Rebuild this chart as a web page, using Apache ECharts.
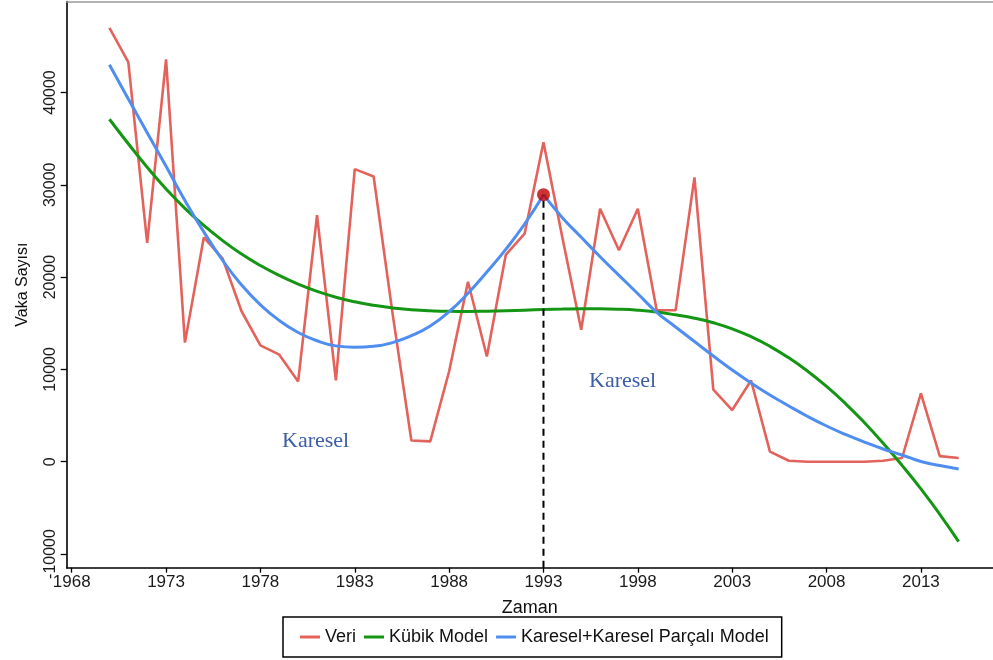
<!DOCTYPE html>
<html>
<head>
<meta charset="utf-8">
<script src="https://cdn.jsdelivr.net/npm/echarts@6/dist/echarts.min.js"></script>
<style>
  html, body { margin: 0; padding: 0; background: #fff; }
  #chart { width: 993px; height: 660px; }
</style>
</head>
<body>
<div id="chart"></div>
<script>
// Yıllar (1970-2015)
const years = [1970, 1971, 1972, 1973, 1974, 1975, 1976, 1977, 1978, 1979,
  1980, 1981, 1982, 1983, 1984, 1985, 1986, 1987, 1988, 1989,
  1990, 1991, 1992, 1993, 1994, 1995, 1996, 1997, 1998, 1999,
  2000, 2001, 2002, 2003, 2004, 2005, 2006, 2007, 2008, 2009,
  2010, 2011, 2012, 2013, 2014, 2015];

// Gözlenen vaka sayıları
const veri = [47000, 43300, 23700, 43600, 12900, 24300, 22000, 16300, 12600, 11600,
  8700, 26700, 8800, 31700, 30900, 16100, 2300, 2200, 9800, 19500,
  11400, 22400, 24700, 34600, 24300, 14300, 27400, 22900, 27400, 16400,
  16400, 30800, 7800, 5600, 8800, 1100, 100, 0, 0, 0,
  0, 100, 400, 7400, 600, 400];

// Kübik model tahminleri
const kubik = [37100, 34450, 31900, 29550, 27450, 25600, 23950, 22500, 21250, 20170,
  19240, 18460, 17820, 17320, 16940, 16660, 16470, 16350, 16290, 16280,
  16310, 16360, 16420, 16480, 16530, 16560, 16560, 16520, 16410, 16210,
  15910, 15550, 15050, 14400, 13550, 12500, 11250, 9800, 8150, 6300,
  4250, 2000, -400, -2950, -5700, -8650];

// Karesel + karesel parçalı model tahminleri (1993'te kırılma)
const parcali = [43000, 39300, 35650, 32000, 28300, 24900, 21800, 19150, 17000, 15300,
  14000, 13100, 12550, 12400, 12500, 12900, 13650, 14700, 16250, 18250,
  20550, 23000, 25750, 28930, 26440, 24310, 22210, 20190, 18200, 16190,
  14590, 13020, 11450, 9940, 8530, 7230, 6040, 4900, 3870, 2950,
  2130, 1380, 730, 20, -410, -790];

const knotYear = 1993;
const xTicks = [1968, 1973, 1978, 1983, 1988, 1993, 1998, 2003, 2008, 2013];
const yTicks = [-10000, 0, 10000, 20000, 30000, 40000];
const xRange = [1967.735, 2016.82];
const yRange = [-11484, 49858];

const pairs = (vals, from, to) => years.slice(from, to).map((y, i) => [y, vals[from + i]]);
const knotIdx = years.indexOf(knotYear);
const knotValue = parcali[knotIdx];

const SANS = "'Liberation Sans', Arial, sans-serif";
const SERIF = "'Liberation Serif', 'Times New Roman', serif";
const RED = '#e3635c', GREEN = '#149614', BLUE = '#4f8ef0';

const chart = echarts.init(document.getElementById('chart'), null, { renderer: 'canvas' });

chart.setOption({
  animation: false,
  backgroundColor: '#fff',
  grid: { left: 66.7, right: 0, top: 1.5, bottom: 92.3 },
  xAxis: [{
    type: 'value', min: xRange[0], max: xRange[1],
    name: 'Zaman', nameLocation: 'middle', nameGap: 31,
    nameTextStyle: { fontFamily: SANS, fontSize: 18, color: '#111' },
    axisLine: { show: true, onZero: false, lineStyle: { color: '#000', width: 1.6 } },
    axisTick: { show: true, customValues: xTicks, length: 5, lineStyle: { color: '#000', width: 1.3 } },
    axisLabel: { customValues: xTicks, formatter: v => String(v),
      fontFamily: SANS, fontSize: 17, color: '#1a1a1a', margin: 6 },
    splitLine: { show: false }
  }, {
    type: 'value', position: 'top', min: xRange[0], max: xRange[1],
    axisLine: { show: true, onZero: false, lineStyle: { color: '#999', width: 1.5 } },
    axisTick: { show: false }, axisLabel: { show: false }, splitLine: { show: false }
  }],
  yAxis: {
    type: 'value', min: yRange[0], max: yRange[1],
    name: 'Vaka Sayısı', nameLocation: 'middle', nameGap: 36,
    nameTextStyle: { fontFamily: SANS, fontSize: 16, color: '#111' },
    axisLine: { show: true, onZero: false, lineStyle: { color: '#000', width: 1.6 } },
    axisTick: { show: true, customValues: yTicks, length: 6, lineStyle: { color: '#000', width: 1.3 } },
    axisLabel: { customValues: yTicks, formatter: v => String(v), rotate: 90,
      fontFamily: SANS, fontSize: 16, color: '#1a1a1a', margin: 8 },
    splitLine: { show: false }
  },
  legend: {
    data: ['Veri', 'Kübik Model', 'Karesel+Karesel Parçalı Model'],
    left: 283, top: 617,
    orient: 'horizontal',
    icon: 'rect', itemWidth: 20, itemHeight: 3, itemGap: 8,
    padding: [11, 13, 11, 17],
    borderColor: '#000', borderWidth: 1.5,
    textStyle: { fontFamily: SANS, fontSize: 18, color: '#111' }
  },
  graphic: [
    { type: 'text', left: 282, top: 430,
      style: { text: 'Karesel', font: '22px ' + SERIF, fill: '#3b5ea6' } },
    { type: 'text', left: 589, top: 370,
      style: { text: 'Karesel', font: '22px ' + SERIF, fill: '#3b5ea6' } }
  ],
  series: [
    { name: 'Veri', type: 'line', data: pairs(veri, 0, years.length),
      showSymbol: false, itemStyle: { color: RED },
      lineStyle: { color: RED, width: 2.6 }, z: 2 },
    { name: 'Kübik Model', type: 'line', data: pairs(kubik, 0, years.length),
      smooth: true, showSymbol: false, itemStyle: { color: GREEN },
      lineStyle: { color: GREEN, width: 3 }, z: 3 },
    { name: 'Karesel+Karesel Parçalı Model', type: 'line', data: pairs(parcali, 0, knotIdx + 1),
      smooth: true, showSymbol: false, itemStyle: { color: BLUE },
      lineStyle: { color: BLUE, width: 3 }, z: 4 },
    { name: 'Karesel+Karesel Parçalı Model', type: 'line', data: pairs(parcali, knotIdx, years.length),
      smooth: true, showSymbol: false, itemStyle: { color: BLUE },
      lineStyle: { color: BLUE, width: 3 }, z: 4 },
    { name: 'Kırılma', type: 'line', data: [[knotYear, yRange[0]], [knotYear, knotValue]],
      showSymbol: false, lineStyle: { color: '#000', width: 2, type: [7, 5] }, z: 5 },
    { name: 'Kırılma noktası', type: 'scatter', data: [[knotYear, knotValue]],
      symbolSize: 13, itemStyle: { color: '#c00000' }, z: 6 }
  ]
});
</script>
</body>
</html>
